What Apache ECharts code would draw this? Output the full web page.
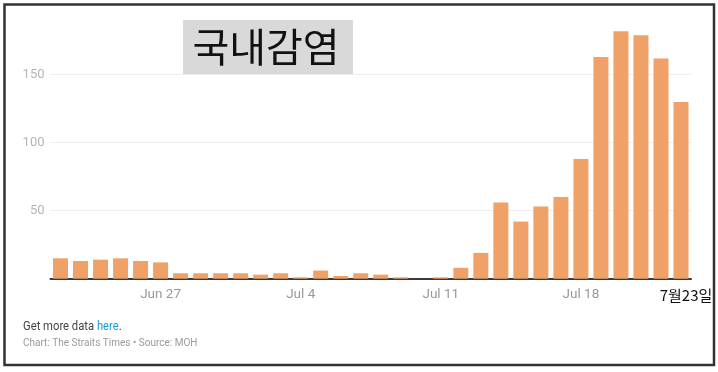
<!DOCTYPE html>
<html>
<head>
<meta charset="utf-8">
<script src="https://cdn.jsdelivr.net/npm/echarts@6/dist/echarts.min.js"></script>
<style>
html,body{margin:0;padding:0;background:#fff;}
#c{width:718px;height:372px;}
</style>
</head>
<body>
<div id="c"></div>
<script>
const categories = ['Jun 22','Jun 23','Jun 24','Jun 25','Jun 26','Jun 27','Jun 28','Jun 29','Jun 30','Jul 1','Jul 2','Jul 3','Jul 4','Jul 5','Jul 6','Jul 7','Jul 8','Jul 9','Jul 10','Jul 11','Jul 12','Jul 13','Jul 14','Jul 15','Jul 16','Jul 17','Jul 18','Jul 19','Jul 20','Jul 21','Jul 22','Jul 23'];
const localCases = [15,13,14,15,13,12,4,4,4,4,3,4,1,6,2,4,3,1,0,1,8,19,56,42,53,60,88,163,182,179,162,130];
const shownTicks = ['Jun 27','Jul 4','Jul 11','Jul 18','Jul 23'];
const endLabel = '7월23일';
const yTicks = [50,100,150];
const titleText = '국내감염';

const chart = echarts.init(document.getElementById('c'), null, {renderer:'canvas'});
chart.setOption({
  animation:false,
  backgroundColor:'#fff',
  grid:{left:50.5, right:27, top:6.7, bottom:93.3, containLabel:false},
  xAxis:{
    type:'category',
    data:categories,
    boundaryGap:true,
    axisTick:{show:false},
    axisLine:{lineStyle:{color:'#3a3a3a', width:2}},
    axisLabel:{
      interval:(i, v)=>shownTicks.indexOf(v) >= 0,
      margin:9,
      color:'#999',
      fontFamily:'Roboto, sans-serif',
      fontSize:13.5,
      formatter:(v)=> v === categories[categories.length-1] ? '{end|' + endLabel + '}' : v,
      rich:{end:{color:'#111', fontSize:15, fontFamily:'"Noto Sans CJK KR", sans-serif', padding:[0,0,0,10]}}
    }
  },
  yAxis:{
    type:'value',
    min:0, max:200, interval:50,
    axisLine:{show:false},
    axisTick:{show:false},
    splitLine:{show:true, showMinLine:false, showMaxLine:false, lineStyle:{color:'#eeeeee', width:1}},
    axisLabel:{
      showMinLabel:false, showMaxLabel:false,
      color:'#b5b5b5', fontSize:13, fontFamily:'Roboto, sans-serif', margin:6,
      formatter:(v)=> yTicks.indexOf(v) >= 0 ? String(v) : ''
    }
  },
  series:[{
    type:'bar',
    data:localCases,
    barWidth:15,
    itemStyle:{color:'#efa168'}
  }],
  graphic:[
    {type:'rect', shape:{x:4.5, y:4.5, width:709.5, height:360.5}, style:{fill:'none', stroke:'#333', lineWidth:2.5}, z:100},
    {type:'rect', shape:{x:183, y:20, width:170, height:54}, style:{fill:'#d9d9d9'}, z:50},
    {type:'text', x:266, y:47, style:{text:titleText, font:'40px "Noto Sans CJK KR", sans-serif', fill:'#111', textAlign:'center', textVerticalAlign:'middle'}, z:51},
    {type:'text', x:23, y:326.5, scaleX:0.9, style:{
      text:'{a|Get more data }{b|here}{a|.}',
      textVerticalAlign:'middle',
      rich:{a:{fill:'#444', fontSize:12.5, fontFamily:'Roboto, sans-serif'}, b:{fill:'#1a9bd7', fontSize:12.5, fontFamily:'Roboto, sans-serif'}}
    }, z:51},
    {type:'text', x:23, y:343.5, scaleX:0.91, style:{text:'Chart: The Straits Times \u2022 Source: MOH', font:'11px Roboto, sans-serif', fill:'#9a9a9a', textVerticalAlign:'middle'}, z:51}
  ]
});
</script>
</body>
</html>
